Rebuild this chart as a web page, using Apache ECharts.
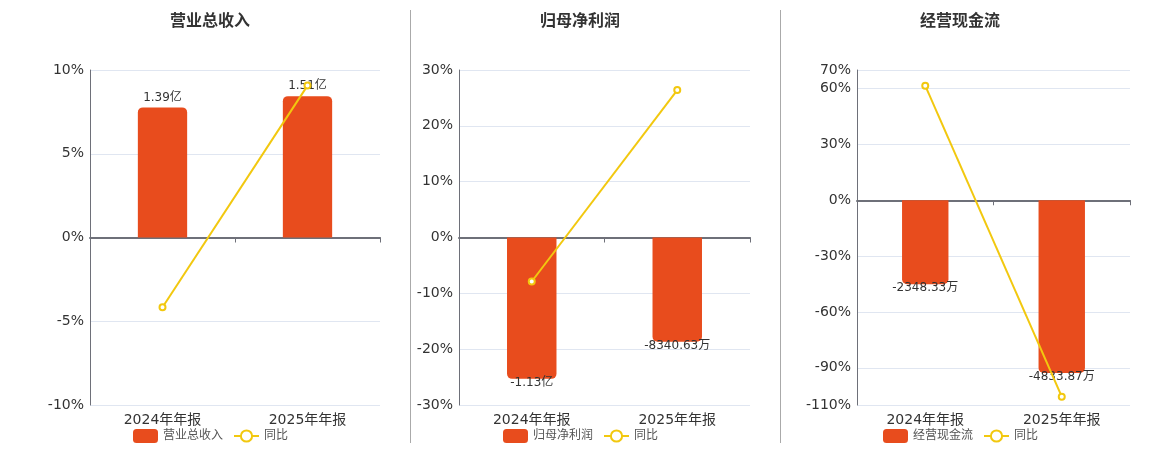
<!DOCTYPE html>
<html>
<head>
<meta charset="utf-8">
<script src="https://cdn.jsdelivr.net/npm/echarts@6/dist/echarts.min.js"></script>
<style>
html,body{margin:0;padding:0;background:#fff;}
#main{width:1160px;height:450px;}
</style>
</head>
<body>
<div id="main"></div>
<script>
// ---- data ----
var categories = ['2024年年报', '2025年年报'];
var panelTitles = ['营业总收入', '归母净利润', '经营现金流'];
// bar values in 万元
var revenue = [13900, 15100];
var netProfit = [-11300, -8340.63];
var cashFlow = [-2348.33, -4833.87];
// year-over-year (%)
var revenueYoY = [-4.16, 9.07];
var netProfitYoY = [-7.88, 26.4];
var cashFlowYoY = [61.6, -105.5];
// percent axis ranges / tick intervals
var pctMin = [-10, -30, -110];
var pctMax = [10, 30, 70];
var pctInterval = [5, 10, null];

var barSets = [revenue, netProfit, cashFlow];
var yoySets = [revenueYoY, netProfitYoY, cashFlowYoY];

// ---- layout ----
var FONT = '"DejaVu Sans", "Noto Sans CJK SC", sans-serif';
var grids = [
  {left: 90, top: 70, width: 290, height: 335},
  {left: 459, top: 70, width: 291, height: 335},
  {left: 857, top: 70, width: 273, height: 335}
];
var titleCenters = [210, 580, 960];
var legendLefts = [133, 503, 883];
var BAR_COLOR = '#E84C1D';
var LINE_COLOR = '#F2C80F';

function fmtMoney(v) {
  if (Math.abs(v) >= 10000) return (v / 10000).toFixed(2) + '亿';
  return v.toFixed(2) + '万';
}

var option = {
  animation: false,
  textStyle: {fontFamily: FONT},
  title: [], legend: [], grid: [], xAxis: [], yAxis: [], series: [],
  graphic: [
    {type: 'line', shape: {x1: 410.5, y1: 10, x2: 410.5, y2: 443}, style: {stroke: '#aaaaaa', lineWidth: 1}},
    {type: 'line', shape: {x1: 780.5, y1: 10, x2: 780.5, y2: 443}, style: {stroke: '#aaaaaa', lineWidth: 1}}
  ]
};

for (var i = 0; i < 3; i++) {
  var bars = barSets[i];
  var maxAbs = Math.max.apply(null, bars.map(Math.abs)) * 1.185;
  // align bar axis zero with percent axis zero
  var lo = pctMin[i], hi = pctMax[i];
  var scale = Math.max(-lo, hi);
  var barMin = lo / scale * maxAbs;
  var barMax = hi / scale * maxAbs;

  option.title.push({
    text: panelTitles[i], left: titleCenters[i], top: 14, textAlign: 'center', padding: 0,
    textStyle: {fontSize: 16, fontWeight: 'bold', color: '#333', fontFamily: FONT}
  });
  option.legend.push({
    left: legendLefts[i], top: 429, padding: 0, itemGap: 10, itemWidth: 25, itemHeight: 14,
    data: [panelTitles[i], '同比'],
    textStyle: {fontSize: 12, color: '#555', fontFamily: FONT}
  });
  option.grid.push(Object.assign({containLabel: false}, grids[i]));

  // x axis on zero: line + ticks
  option.xAxis.push({
    type: 'category', gridIndex: i, data: categories,
    axisLine: {show: true, onZero: true, lineStyle: {color: '#6E7079', width: 2}},
    axisTick: {show: true, length: 5, lineStyle: {color: '#6E7079'}},
    axisLabel: {show: false}, splitLine: {show: false}
  });
  // x axis at bottom: labels only
  option.xAxis.push({
    type: 'category', gridIndex: i, data: categories, position: 'bottom',
    axisLine: {show: false, onZero: false}, axisTick: {show: false},
    axisLabel: {show: true, fontSize: 14, color: '#333', margin: 8, fontFamily: FONT},
    splitLine: {show: false}
  });

  var pctAxis = {
    type: 'value', gridIndex: i, min: lo, max: hi,
    axisLine: {show: true, lineStyle: {color: '#6E7079', width: 1}},
    axisTick: {show: false},
    axisLabel: {formatter: '{value}%', fontSize: 14, color: '#333', margin: 6, fontFamily: FONT},
    splitLine: {show: true, lineStyle: {color: '#E0E6F1'}}
  };
  if (pctInterval[i] != null) pctAxis.interval = pctInterval[i]; else pctAxis.splitNumber = 5;
  option.yAxis.push(pctAxis);
  option.yAxis.push({
    type: 'value', gridIndex: i, min: barMin, max: barMax, show: false,
    splitLine: {show: false}
  });

  var barData = bars.map(function (v) {
    var neg = v < 0;
    return {
      value: v,
      itemStyle: {borderRadius: neg ? [0, 0, 5, 5] : [5, 5, 0, 0]},
      label: {position: neg ? 'bottom' : 'top', distance: neg ? -2 : 4}
    };
  });

  option.series.push({
    name: panelTitles[i], type: 'bar', xAxisIndex: i * 2, yAxisIndex: i * 2 + 1,
    data: barData, barWidth: '34%',
    itemStyle: {color: BAR_COLOR},
    label: {show: true, fontSize: 12, color: '#333', fontFamily: FONT,
      formatter: function (p) { return fmtMoney(p.value); }},
    z: 2
  });
  option.series.push({
    name: '同比', type: 'line', xAxisIndex: i * 2, yAxisIndex: i * 2,
    data: yoySets[i],
    symbol: 'emptyCircle', symbolSize: 6,
    lineStyle: {color: LINE_COLOR, width: 2},
    itemStyle: {color: LINE_COLOR, borderWidth: 2},
    z: 5
  });
}

var chart = echarts.init(document.getElementById('main'));
chart.setOption(option);
</script>
</body>
</html>
